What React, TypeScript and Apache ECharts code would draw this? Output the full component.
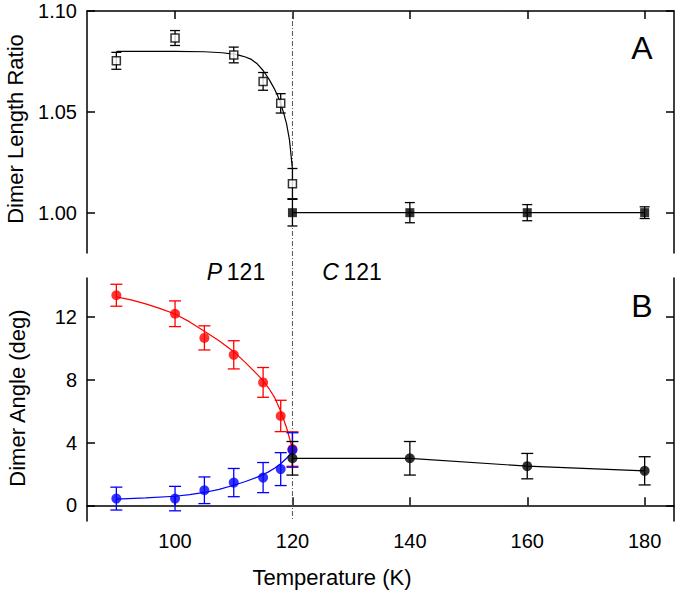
import React, { useEffect, useRef } from "react";
import * as echarts from "echarts";

// ---- Panel A: dimer length ratio ----
const T_LEN_OPEN = [90, 100, 110, 115, 118, 120];
const LEN_OPEN = [1.0753, 1.0866, 1.0782, 1.0651, 1.0542, 1.0144];
const LEN_OPEN_ERR = [0.0042, 0.0037, 0.0039, 0.0044, 0.0048, 0.0075];

const T_LEN_FILLED = [120, 140, 160, 180];
const LEN_FILLED = [1.0, 1.0, 1.0, 1.0];
const LEN_FILLED_ERR = [0.0066, 0.005, 0.004, 0.0029];

const FIT_LEN_T = [90, 95, 100, 105, 108, 110, 111, 112, 113, 114, 115, 116, 117, 117.5, 118, 118.5, 119, 119.5, 120];
const FIT_LEN = [1.08, 1.08, 1.08, 1.0798, 1.0793, 1.0786, 1.078, 1.0772, 1.076, 1.0738, 1.0705, 1.0662, 1.061, 1.0578, 1.054, 1.0495, 1.044, 1.036, 1.0215];

// ---- Panel B: dimer angle ----
const T_ANG = [90, 100, 105, 110, 115, 118, 120];
const ANG_RED = [13.4, 12.22, 10.68, 9.6, 7.84, 5.7, 3.59];
const ANG_RED_ERR = [0.7, 0.82, 0.77, 0.9, 0.95, 1.0, 1.1];
const ANG_BLUE = [0.43, 0.43, 0.96, 1.45, 1.77, 2.31, 3.53];
const ANG_BLUE_ERR = [0.73, 0.78, 0.85, 0.9, 0.96, 1.05, 1.1];

const T_HIGH = [120, 140, 160, 180];
const ANG_BLACK = [3.0, 3.0, 2.5, 2.2];
const ANG_BLACK_ERR = [1.07, 1.07, 0.81, 0.9];

const FIT_RED_T = [90, 92.5, 95, 97.5, 100, 102.5, 105, 107.5, 110, 112, 114, 115, 116, 117, 118, 119, 120];
const FIT_RED = [13.3, 13.1, 12.85, 12.55, 12.2, 11.7, 11.1, 10.5, 9.8, 9.1, 8.35, 7.95, 7.45, 6.85, 6.0, 4.95, 3.6];
const FIT_BLUE_T = [90, 95, 100, 102.5, 105, 107.5, 110, 112, 114, 115, 116, 117, 118, 119, 120];
const FIT_BLUE = [0.4, 0.48, 0.58, 0.68, 0.82, 1.02, 1.28, 1.52, 1.8, 1.97, 2.15, 2.38, 2.65, 3.0, 3.45];

const X_TICKS = [100, 120, 140, 160, 180];
const LEN_TICKS = [1.0, 1.05, 1.1];
const ANG_TICKS = [0, 4, 8, 12];
const T_C = 120;

const FONT = "Liberation Sans, Arial, sans-serif";

function pairs(xs: number[], ys: number[]) {
  return xs.map((x, i) => [x, ys[i]]);
}
function triples(xs: number[], ys: number[], es: number[]) {
  return xs.map((x, i) => [x, ys[i], es[i]]);
}

function errorBars(
  name: string,
  xAxisIndex: number,
  yAxisIndex: number,
  data: number[][],
  color: string,
  capHalf: number,
  z: number
) {
  return {
    name,
    type: "custom",
    xAxisIndex,
    yAxisIndex,
    z,
    data,
    renderItem: (params: any, api: any) => {
      const x = api.value(0);
      const y = api.value(1);
      const e = api.value(2);
      const lo = api.coord([x, y - e]);
      const hi = api.coord([x, y + e]);
      const style = { stroke: color, lineWidth: 1.3 };
      return {
        type: "group",
        children: [
          { type: "line", shape: { x1: lo[0], y1: lo[1], x2: hi[0], y2: hi[1] }, style },
          { type: "line", shape: { x1: lo[0] - capHalf, y1: lo[1], x2: lo[0] + capHalf, y2: lo[1] }, style },
          { type: "line", shape: { x1: hi[0] - capHalf, y1: hi[1], x2: hi[0] + capHalf, y2: hi[1] }, style },
        ],
      };
    },
  };
}

const axisLineStyle = { show: true, lineStyle: { color: "#000", width: 1.5 } };
const tickStyle = (vals: number[]) => ({
  show: true,
  inside: true,
  length: 8,
  customValues: vals,
  lineStyle: { color: "#000", width: 1.5 },
});

function lineSeries(name: string, xi: number, yi: number, xs: number[], ys: number[], color: string) {
  return {
    name,
    type: "line",
    xAxisIndex: xi,
    yAxisIndex: yi,
    data: pairs(xs, ys),
    smooth: false,
    symbol: "none",
    lineStyle: { color, width: 1.2 },
    z: 2,
  };
}

function scatterSeries(name: string, xi: number, yi: number, xs: number[], ys: number[], symbol: string, size: number, itemStyle: any, z: number) {
  return {
    name,
    type: "scatter",
    xAxisIndex: xi,
    yAxisIndex: yi,
    data: pairs(xs, ys),
    symbol,
    symbolSize: size,
    itemStyle,
    z,
  };
}

export default function App() {
  const ref = useRef<HTMLDivElement>(null);
  useEffect(() => {
    if (!ref.current) return;
    const chart = echarts.init(ref.current, undefined, { renderer: "svg" });
    const option: any = {
      animation: false,
      backgroundColor: "#fff",
      textStyle: { fontFamily: FONT },
      grid: [
        { left: 87, right: 3, top: 11, height: 242 },
        { left: 87, right: 3, top: 278, height: 243 },
      ],
      xAxis: [
        {
          type: "value",
          gridIndex: 0,
          position: "top",
          min: 85,
          max: 185,
          axisLine: axisLineStyle,
          axisTick: tickStyle(X_TICKS),
          axisLabel: { show: false },
          splitLine: { show: false },
        },
        {
          type: "value",
          gridIndex: 1,
          position: "bottom",
          min: 85,
          max: 185,
          axisLine: axisLineStyle,
          axisTick: tickStyle(X_TICKS),
          axisLabel: {
            show: true,
            customValues: X_TICKS,
            fontSize: 20,
            color: "#000",
            margin: 10,
            fontFamily: FONT,
          },
          splitLine: { show: false },
        },
      ],
      yAxis: [
        {
          type: "value",
          gridIndex: 0,
          position: "left",
          min: 0.98,
          max: 1.1,
          axisLine: axisLineStyle,
          axisTick: tickStyle(LEN_TICKS),
          axisLabel: {
            show: true,
            customValues: LEN_TICKS,
            formatter: (v: number) => v.toFixed(2),
            fontSize: 20,
            color: "#000",
            margin: 10,
            fontFamily: FONT,
          },
          splitLine: { show: false },
        },
        {
          type: "value",
          gridIndex: 0,
          position: "right",
          min: 0.98,
          max: 1.1,
          axisLine: axisLineStyle,
          axisTick: tickStyle(LEN_TICKS),
          axisLabel: { show: false },
          splitLine: { show: false },
        },
        {
          type: "value",
          gridIndex: 1,
          position: "left",
          min: -1,
          max: 14.5,
          axisLine: axisLineStyle,
          axisTick: tickStyle(ANG_TICKS),
          axisLabel: {
            show: true,
            customValues: ANG_TICKS,
            fontSize: 20,
            color: "#000",
            margin: 10,
            fontFamily: FONT,
          },
          splitLine: { show: false },
        },
        {
          type: "value",
          gridIndex: 1,
          position: "right",
          min: -1,
          max: 14.5,
          axisLine: axisLineStyle,
          axisTick: tickStyle(ANG_TICKS),
          axisLabel: { show: false },
          splitLine: { show: false },
        },
      ],
      graphic: [
        {
          id: "ytitleA",
          type: "text",
          x: 15,
          y: 129,
          rotation: Math.PI / 2,
          style: { text: "Dimer Length Ratio", fontSize: 22, fontFamily: FONT, fill: "#000", align: "center", verticalAlign: "middle" },
        },
        {
          id: "ytitleB",
          type: "text",
          x: 17,
          y: 398,
          rotation: Math.PI / 2,
          style: { text: "Dimer Angle (deg)", fontSize: 22, fontFamily: FONT, fill: "#000", align: "center", verticalAlign: "middle" },
        },
        {
          id: "xtitle",
          type: "text",
          x: 332,
          y: 577,
          style: { text: "Temperature (K)", fontSize: 22, fontFamily: FONT, fill: "#000", align: "center", verticalAlign: "middle" },
        },
        {
          id: "labA",
          type: "text",
          x: 642,
          y: 48,
          style: { text: "A", fontSize: 32, fontFamily: FONT, fill: "#000", align: "center", verticalAlign: "middle" },
        },
        {
          id: "labB",
          type: "text",
          x: 642,
          y: 306,
          style: { text: "B", fontSize: 32, fontFamily: FONT, fill: "#000", align: "center", verticalAlign: "middle" },
        },
        {
          id: "p121",
          type: "text",
          x: 236,
          y: 272,
          style: {
            text: "{i|P}\u2009121",
            fontSize: 23,
            fontFamily: FONT,
            fill: "#000",
            align: "center",
            verticalAlign: "middle",
            rich: { i: { fontStyle: "italic", fontSize: 23, fontFamily: FONT } },
          },
        },
        {
          id: "c121",
          type: "text",
          x: 352,
          y: 272,
          style: {
            text: "{i|C}\u2009121",
            fontSize: 23,
            fontFamily: FONT,
            fill: "#000",
            align: "center",
            verticalAlign: "middle",
            rich: { i: { fontStyle: "italic", fontSize: 23, fontFamily: FONT } },
          },
        },
      ],
      series: [
        // Panel A
        lineSeries("fitLen", 0, 0, FIT_LEN_T, FIT_LEN, "#000"),
        lineSeries("lenFilledLine", 0, 0, T_LEN_FILLED, LEN_FILLED, "#000"),
        errorBars("lenOpenErr", 0, 0, triples(T_LEN_OPEN, LEN_OPEN, LEN_OPEN_ERR), "#000", 5, 3),
        errorBars("lenFilledErr", 0, 0, triples(T_LEN_FILLED, LEN_FILLED, LEN_FILLED_ERR), "#000", 5, 3),
        scatterSeries("lenOpen", 0, 0, T_LEN_OPEN, LEN_OPEN, "rect", 8, { color: "#fff", borderColor: "#000", borderWidth: 1.5 }, 4),
        scatterSeries("lenFilled", 0, 0, T_LEN_FILLED, LEN_FILLED, "rect", 9, { color: "#000" }, 4),
        // Panel B
        lineSeries("fitRed", 1, 2, FIT_RED_T, FIT_RED, "#f00"),
        lineSeries("fitBlue", 1, 2, FIT_BLUE_T, FIT_BLUE, "#00f"),
        lineSeries("blackLine", 1, 2, T_HIGH, ANG_BLACK, "#000"),
        errorBars("redErr", 1, 2, triples(T_ANG, ANG_RED, ANG_RED_ERR), "#f00", 6, 3),
        scatterSeries("red", 1, 2, T_ANG, ANG_RED, "circle", 10, { color: "#f00" }, 4),
        errorBars("blueErr", 1, 2, triples(T_ANG, ANG_BLUE, ANG_BLUE_ERR), "#00f", 6, 5),
        scatterSeries("blue", 1, 2, T_ANG, ANG_BLUE, "circle", 10, { color: "#00f" }, 6),
        errorBars("blackErr", 1, 2, triples(T_HIGH, ANG_BLACK, ANG_BLACK_ERR), "#000", 6, 7),
        scatterSeries("black", 1, 2, T_HIGH, ANG_BLACK, "circle", 10, { color: "#000" }, 8),
      ],
    };
    chart.setOption(option);

    const px = chart.convertToPixel({ xAxisIndex: 0 }, T_C) as number;
    const yTop = chart.convertToPixel({ yAxisIndex: 0 }, 1.1) as number;
    const yBot = chart.convertToPixel({ yAxisIndex: 2 }, -1) as number;
    chart.setOption({
      graphic: [
        {
          id: "tcLine",
          type: "line",
          z: 1,
          shape: { x1: px, y1: yTop, x2: px, y2: yBot },
          style: { stroke: "#555", lineWidth: 1, lineDash: [5, 2, 1, 2] },
        },
      ],
    });

    return () => chart.dispose();
  }, []);
  return <div ref={ref} style={{ position: "absolute", left: 0, top: 0, width: 677, height: 592 }} />;
}
